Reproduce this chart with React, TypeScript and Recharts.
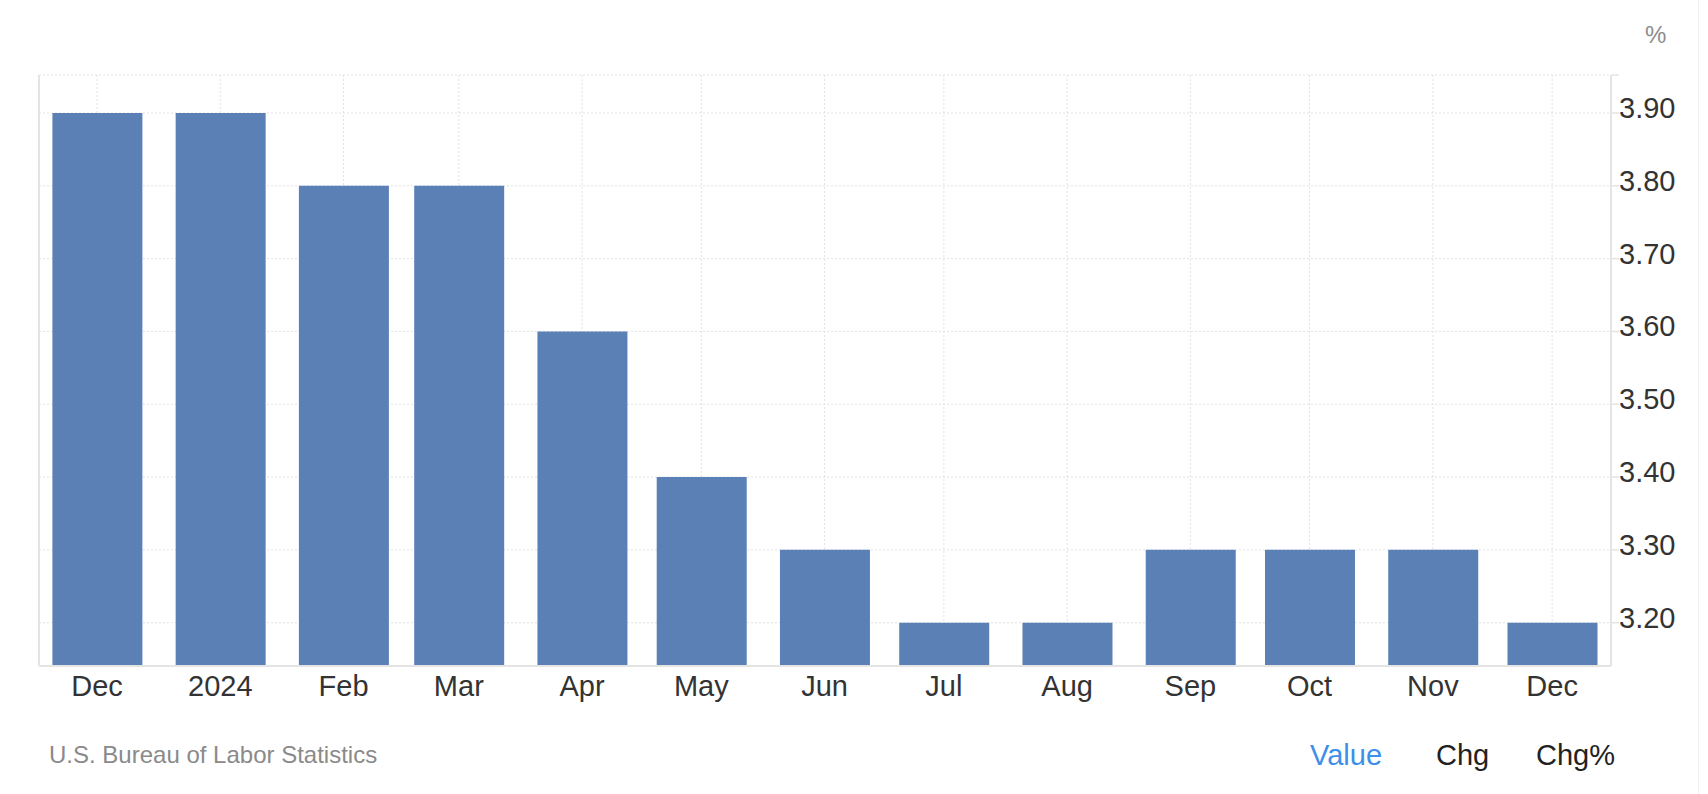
import React from "react";
import { BarChart, Bar, XAxis, YAxis, CartesianGrid, ReferenceLine } from "recharts";

const dates = [
  "2023-12-01", "2024-01-01", "2024-02-01", "2024-03-01", "2024-04-01", "2024-05-01", "2024-06-01",
  "2024-07-01", "2024-08-01", "2024-09-01", "2024-10-01", "2024-11-01", "2024-12-01",
];
const labels = ["Dec", "2024", "Feb", "Mar", "Apr", "May", "Jun", "Jul", "Aug", "Sep", "Oct", "Nov", "Dec"];
const values = [3.9, 3.9, 3.8, 3.8, 3.6, 3.4, 3.3, 3.2, 3.2, 3.3, 3.3, 3.3, 3.2];
const yTickValues = [3.2, 3.3, 3.4, 3.5, 3.6, 3.7, 3.8, 3.9];
const Y_MIN = 3.1405;
const Y_MAX = 3.9522;

const DAY = 86400000;
const times = dates.map((d) => Date.parse(d + "T00:00:00Z"));
const data = times.map((t, i) => ({ t, label: labels[i], value: values[i] }));
const X_MIN = times[0] - 14.6 * DAY;
const X_MAX = times[times.length - 1] + 14.8 * DAY;

const FONT = "'Liberation Sans', Arial, Helvetica, sans-serif";
const GRID = "#e2e2e2";
const AXIS = "#e4e4e4";

const XTick = (props: any) => {
  const { x, y, payload } = props;
  const idx = times.indexOf(payload.value);
  return (
    <text x={x} y={y + 30} textAnchor="middle" fontSize={29} fill="#333" fontFamily={FONT}>
      {idx >= 0 ? labels[idx] : ""}
    </text>
  );
};

const YTick = (props: any) => {
  const { x, y, payload } = props;
  if (payload.value === Y_MAX) return <g />;
  return (
    <text x={x} y={y + 5} textAnchor="start" fontSize={29} fill="#333" fontFamily={FONT}>
      {payload.value.toFixed(2)}
    </text>
  );
};

export default function App() {
  return (
    <div style={{ position: "absolute", left: 0, top: 0, width: 1708, height: 794, background: "#fff", fontFamily: FONT }}>
      <BarChart width={1708} height={794} data={data} margin={{ top: 75, right: 17, bottom: 98, left: 39 }}>
        <CartesianGrid stroke={GRID} strokeDasharray="2 2" />
        <XAxis
          dataKey="t"
          type="number"
          domain={[X_MIN, X_MAX]}
          ticks={times}
          height={30}
          tickLine={false}
          tickSize={0}
          tickMargin={0}
          axisLine={{ stroke: AXIS, strokeWidth: 2 }}
          tick={<XTick />}
          allowDataOverflow
        />
        <YAxis
          orientation="right"
          type="number"
          domain={[Y_MIN, Y_MAX]}
          ticks={[...yTickValues, Y_MAX]}
          width={80}
          tickSize={8}
          tickMargin={0}
          tickLine={{ stroke: AXIS, strokeWidth: 1.5 }}
          axisLine={{ stroke: AXIS, strokeWidth: 2 }}
          tick={<YTick />}
          allowDataOverflow
        />
        <ReferenceLine x={X_MIN} stroke={AXIS} strokeWidth={2} />
        <Bar dataKey="value" fill="#5a80b6" barSize={90} isAnimationActive={false} />
      </BarChart>
      <div style={{ position: "absolute", left: 1645, top: 20, fontSize: 24, lineHeight: "30px", color: "#8c8c8c" }}>%</div>
      <div style={{ position: "absolute", left: 49, top: 740, fontSize: 24, lineHeight: "30px", color: "#8a8a8a" }}>
        U.S. Bureau of Labor Statistics
      </div>
      <div style={{ position: "absolute", left: 1310, top: 740, fontSize: 29, lineHeight: "30px", color: "#3d8fe9" }}>Value</div>
      <div style={{ position: "absolute", left: 1436, top: 740, fontSize: 29, lineHeight: "30px", color: "#222" }}>Chg</div>
      <div style={{ position: "absolute", left: 1536, top: 740, fontSize: 29, lineHeight: "30px", color: "#222" }}>Chg%</div>
      <div style={{ position: "absolute", left: 1698, top: 0, width: 1, height: 794, background: "#f0f0f0" }} />
    </div>
  );
}
